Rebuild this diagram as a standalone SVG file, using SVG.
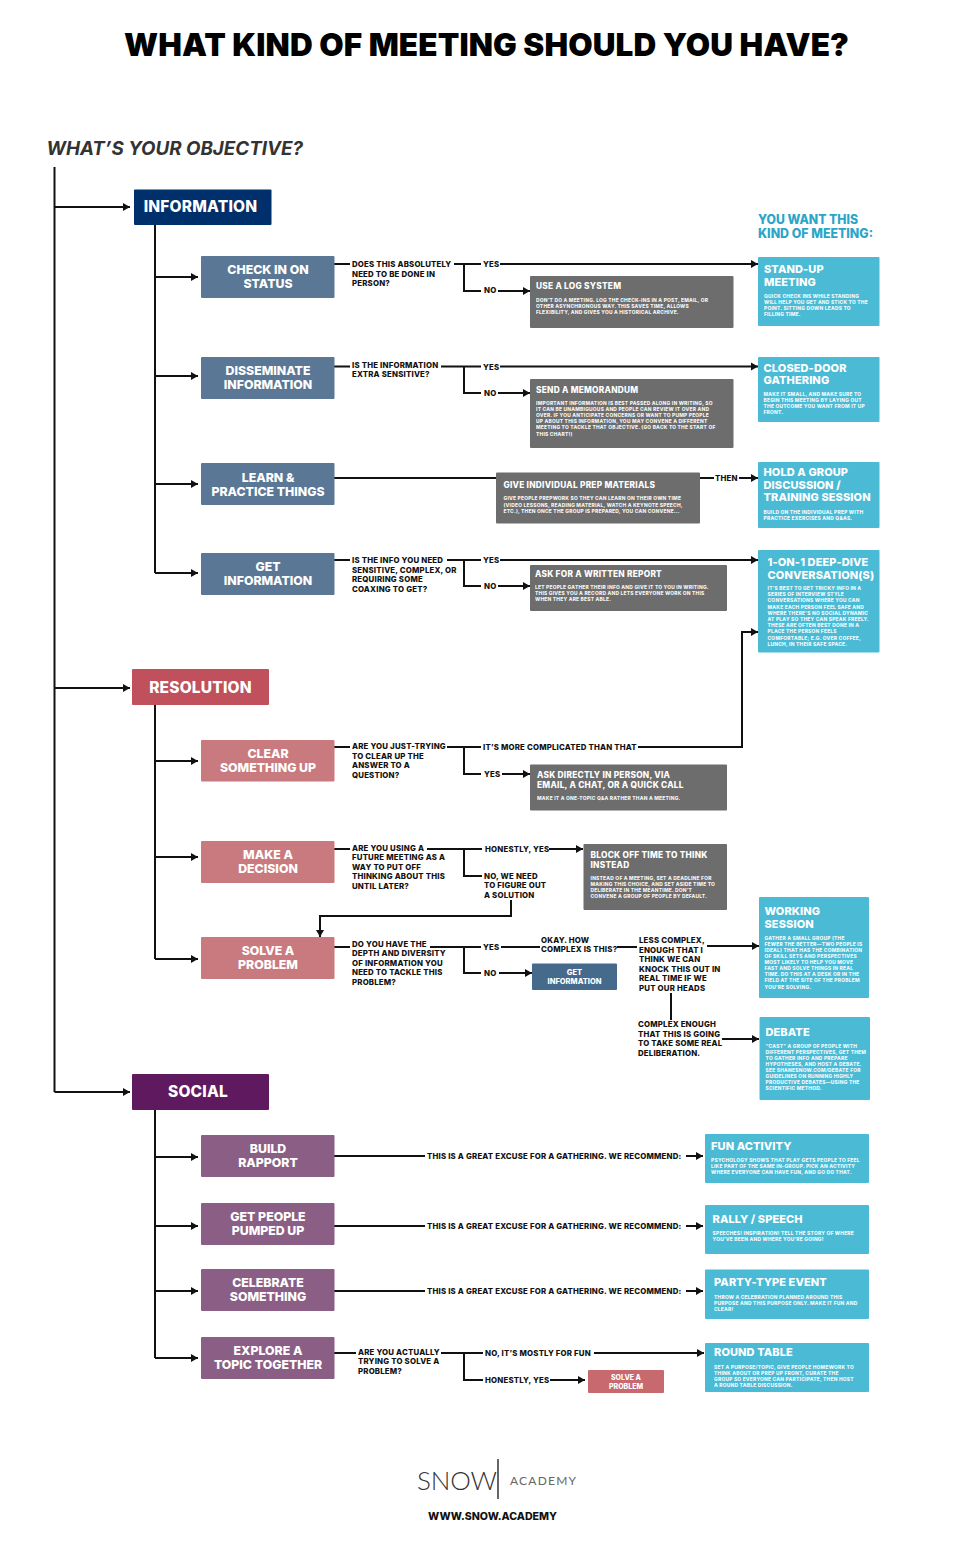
<svg xmlns="http://www.w3.org/2000/svg" width="966" height="1550" viewBox="0 0 966 1550">
<style>
text{font-family:Inter,"Liberation Sans",sans-serif;font-weight:800}
.cat{fill:#fff;font-size:15.5px;text-anchor:middle;letter-spacing:.2px;transform:translateY(.3px)}
.sub{fill:#fff;font-size:12.3px;text-anchor:middle}
.q{fill:#111;font-size:7.8px;letter-spacing:.2px;transform:translateY(.3px)}
.h{fill:#fff;font-size:11px;letter-spacing:.1px;transform:translateY(.3px)}
.g{fill:#fff;font-size:8.3px;letter-spacing:.25px}
.b{fill:#fff;font-size:4.9px;letter-spacing:.23px;opacity:.92}
.gray{fill:#6d6d6d}.cy{fill:#4bbad5}.bl{fill:#5a7796}.pk{fill:#c97a7e}.pu{fill:#8b5f85}
.l{fill:none;stroke:#111;stroke-width:2}
.a{fill:none;stroke:#111;stroke-width:2;marker-end:url(#ah)}
</style>
<defs><marker id="ah" markerUnits="userSpaceOnUse" markerWidth="8" markerHeight="9" refX="7" refY="4.5" orient="auto"><path d="M0 0.5L7 4.5L0 8.5z" fill="#111"/></marker></defs>
<rect width="966" height="1550" fill="#fff"/>
<text x="124" y="56" font-size="31.5" textLength="725" lengthAdjust="spacing" style="font-weight:900" fill="#000">WHAT KIND OF MEETING SHOULD YOU HAVE?</text>
<text x="46.500" y="155" font-size="19" font-style="italic" textLength="256.500" lengthAdjust="spacingAndGlyphs" style="font-weight:700" fill="#333">WHAT’S YOUR OBJECTIVE?</text>
<text x="758" y="224" font-size="12.600" fill="#2aa5c8" textLength="100" lengthAdjust="spacingAndGlyphs">YOU WANT THIS</text>
<text x="758" y="238" font-size="12.600" fill="#2aa5c8" textLength="115" lengthAdjust="spacingAndGlyphs">KIND OF MEETING:</text>

<g id="connectors">
<path class="l" d="M54.500 167V1092M155 225V573M155 705V959M155 1110V1358"/>
<path class="a" d="M54.500 207H130"/><path class="a" d="M54.500 688H130"/><path class="a" d="M54.500 1092H130"/>
<path class="a" d="M155 277H198"/><path class="a" d="M155 376H198"/><path class="a" d="M155 484H198"/><path class="a" d="M155 573H198"/>
<path class="a" d="M155 761H198"/><path class="a" d="M155 857H198"/><path class="a" d="M155 959H198"/>
<path class="a" d="M155 1157H198"/><path class="a" d="M155 1226H198"/><path class="a" d="M155 1291H198"/><path class="a" d="M155 1358H198"/>
<path class="l" d="M334 264H350M454 264H481M464 264V291H481"/><path class="a" d="M500 264H758"/><path class="a" d="M498 291H530"/>
<path class="l" d="M334 366.500H350M441 366.500H481M464 366.500V393H481"/><path class="a" d="M500 366.500H758"/><path class="a" d="M498 393H530"/>
<path class="l" d="M334 478H496M700 478H714"/><path class="a" d="M739 478H758"/>
<path class="l" d="M334 560H350M447 560H481M464 560V586H481"/><path class="a" d="M500 560H758"/><path class="a" d="M498 586H530"/>
<path class="l" d="M334 747H350M447 747H481M464 747V774H481"/><path class="a" d="M638 747H742V632H758"/><path class="a" d="M502 774H530"/>
<path class="l" d="M334 849H350M427 849H482M464 849V876H482"/><path class="a" d="M549 849H583"/><path class="a" d="M511 900V916H320V937"/>
<path class="l" d="M334 947H350M430 947H481M464 947V973H481M501 947H540M617 947H637M671 993V1020"/><path class="a" d="M707 946H759"/><path class="a" d="M722 1039H759"/><path class="a" d="M499 973H532"/>
<path class="l" d="M334 1156H425"/><path class="a" d="M686 1156H703"/>
<path class="l" d="M334 1226H425"/><path class="a" d="M686 1226H703"/>
<path class="l" d="M334 1291H425"/><path class="a" d="M686 1291H703"/>
<path class="l" d="M334 1353H356M441 1353H483M464 1353V1380H483"/><path class="a" d="M594 1353H704"/><path class="a" d="M550 1380H585"/>
</g>

<g id="information"><rect x="134" y="189.500" width="137.500" height="35.500" rx="1" fill="#00306b"/><text class="cat" x="200.500" y="212">INFORMATION</text></g>
<g id="resolution"><rect x="132" y="669" width="137" height="36" rx="1" fill="#c0505c"/><text class="cat" x="200.500" y="693">RESOLUTION</text></g>
<g id="social"><rect x="132" y="1074" width="137" height="36" rx="1" fill="#5f1a5f"/><text class="cat" x="198" y="1097">SOCIAL</text></g>

<g id="check-in"><rect class="bl" x="201" y="256" width="133.500" height="42" rx="1"/><text class="sub" x="268" y="274">CHECK IN ON</text><text class="sub" x="268" y="288">STATUS</text></g>
<g id="disseminate"><rect class="bl" x="201" y="357" width="133.500" height="42" rx="1"/><text class="sub" x="268" y="375">DISSEMINATE</text><text class="sub" x="268" y="389">INFORMATION</text></g>
<g id="learn"><rect class="bl" x="201" y="463" width="133.500" height="42" rx="1"/><text class="sub" x="268" y="482">LEARN &amp;</text><text class="sub" x="268" y="496">PRACTICE THINGS</text></g>
<g id="get-info"><rect class="bl" x="201" y="553" width="133.500" height="42" rx="1"/><text class="sub" x="268" y="571">GET</text><text class="sub" x="268" y="585">INFORMATION</text></g>
<g id="clear"><rect class="pk" x="201" y="740" width="133.500" height="41.500" rx="1"/><text class="sub" x="268" y="758">CLEAR</text><text class="sub" x="268" y="772">SOMETHING UP</text></g>
<g id="decide"><rect class="pk" x="201" y="841" width="133.500" height="42" rx="1"/><text class="sub" x="268" y="859">MAKE A</text><text class="sub" x="268" y="873">DECISION</text></g>
<g id="solve"><rect class="pk" x="201" y="937" width="133.500" height="42" rx="1"/><text class="sub" x="268" y="955">SOLVE A</text><text class="sub" x="268" y="969">PROBLEM</text></g>
<g id="rapport"><rect class="pu" x="201" y="1135" width="133.500" height="42" rx="1"/><text class="sub" x="268" y="1153">BUILD</text><text class="sub" x="268" y="1167">RAPPORT</text></g>
<g id="pumped"><rect class="pu" x="201" y="1203" width="133.500" height="42" rx="1"/><text class="sub" x="268" y="1221">GET PEOPLE</text><text class="sub" x="268" y="1235">PUMPED UP</text></g>
<g id="celebrate"><rect class="pu" x="201" y="1269" width="133.500" height="42" rx="1"/><text class="sub" x="268" y="1287">CELEBRATE</text><text class="sub" x="268" y="1301">SOMETHING</text></g>
<g id="explore"><rect class="pu" x="201" y="1337" width="133.500" height="42" rx="1"/><text class="sub" x="268" y="1355">EXPLORE A</text><text class="sub" x="268" y="1369">TOPIC TOGETHER</text></g>

<g id="labels">
<text class="q" x="352" y="267">DOES THIS ABSOLUTELY</text><text class="q" x="352" y="277">NEED TO BE DONE IN</text><text class="q" x="352" y="286">PERSON?</text>
<text class="q" x="483" y="267">YES</text><text class="q" x="484" y="293">NO</text>
<text class="q" x="352" y="368">IS THE INFORMATION</text><text class="q" x="352" y="377">EXTRA SENSITIVE?</text>
<text class="q" x="483" y="369.500">YES</text><text class="q" x="484" y="396">NO</text>
<text class="q" x="715" y="481">THEN</text>
<text class="q" x="352" y="563">IS THE INFO YOU NEED</text><text class="q" x="352" y="573">SENSITIVE, COMPLEX, OR</text><text class="q" x="352" y="582">REQUIRING SOME</text><text class="q" x="352" y="592">COAXING TO GET?</text>
<text class="q" x="483" y="563">YES</text><text class="q" x="484" y="589">NO</text>
<text class="q" x="352" y="749">ARE YOU JUST-TRYING</text><text class="q" x="352" y="759">TO CLEAR UP THE</text><text class="q" x="352" y="768">ANSWER TO A</text><text class="q" x="352" y="778">QUESTION?</text>
<text class="q" x="483" y="750">IT’S MORE COMPLICATED THAN THAT</text><text class="q" x="484" y="777">YES</text>
<text class="q" x="352" y="851">ARE YOU USING A</text><text class="q" x="352" y="860">FUTURE MEETING AS A</text><text class="q" x="352" y="870">WAY TO PUT OFF</text><text class="q" x="352" y="879">THINKING ABOUT THIS</text><text class="q" x="352" y="889">UNTIL LATER?</text>
<text class="q" x="485" y="852">HONESTLY, YES</text>
<text class="q" x="484" y="879">NO, WE NEED</text><text class="q" x="484" y="888">TO FIGURE OUT</text><text class="q" x="484" y="898">A SOLUTION</text>
<text class="q" x="352" y="947">DO YOU HAVE THE</text><text class="q" x="352" y="956">DEPTH AND DIVERSITY</text><text class="q" x="352" y="966">OF INFORMATION YOU</text><text class="q" x="352" y="975">NEED TO TACKLE THIS</text><text class="q" x="352" y="985">PROBLEM?</text>
<text class="q" x="483" y="949.500">YES</text><text class="q" x="484" y="975.500">NO</text>
<text class="q" x="541" y="942.500">OKAY. HOW</text><text class="q" x="541" y="952">COMPLEX IS THIS?</text>
<text class="q" x="639" y="943">LESS COMPLEX,</text><text class="q" x="639" y="953">ENOUGH THAT I</text><text class="q" x="639" y="962">THINK WE CAN</text><text class="q" x="639" y="972">KNOCK THIS OUT IN</text><text class="q" x="639" y="981">REAL TIME IF WE</text><text class="q" x="639" y="991">PUT OUR HEADS</text>
<text class="q" x="638" y="1027">COMPLEX ENOUGH</text><text class="q" x="638" y="1037">THAT THIS IS GOING</text><text class="q" x="638" y="1046">TO TAKE SOME REAL</text><text class="q" x="638" y="1056">DELIBERATION.</text>
<text class="q" x="427" y="1159">THIS IS A GREAT EXCUSE FOR A GATHERING. WE RECOMMEND:</text>
<text class="q" x="427" y="1229">THIS IS A GREAT EXCUSE FOR A GATHERING. WE RECOMMEND:</text>
<text class="q" x="427" y="1294">THIS IS A GREAT EXCUSE FOR A GATHERING. WE RECOMMEND:</text>
<text class="q" x="358" y="1354.500">ARE YOU ACTUALLY</text><text class="q" x="358" y="1364">TRYING TO SOLVE A</text><text class="q" x="358" y="1373.500">PROBLEM?</text>
<text class="q" x="485" y="1356">NO, IT’S MOSTLY FOR FUN</text><text class="q" x="485" y="1383">HONESTLY, YES</text>
</g>

<g id="log"><rect class="gray" x="530" y="276" width="203.500" height="52" rx="1"/><text class="g" x="536" y="289">USE A LOG SYSTEM</text><text class="b" x="536" y="302">DON’T DO A MEETING. LOG THE CHECK-INS IN A POST, EMAIL, OR</text><text class="b" x="536" y="308">OTHER ASYNCHRONOUS WAY. THIS SAVES TIME, ALLOWS</text><text class="b" x="536" y="314">FLEXIBILITY, AND GIVES YOU A HISTORICAL ARCHIVE.</text></g>
<g id="memo"><rect class="gray" x="530" y="379" width="203.500" height="69" rx="1"/><text class="g" x="536" y="393">SEND A MEMORANDUM</text><text class="b" x="536" y="405">IMPORTANT INFORMATION IS BEST PASSED ALONG IN WRITING, SO</text><text class="b" x="536" y="411">IT CAN BE UNAMBIGUOUS AND PEOPLE CAN REVIEW IT OVER AND</text><text class="b" x="536" y="417">OVER. IF YOU ANTICIPATE CONCERNS OR WANT TO PUMP PEOPLE</text><text class="b" x="536" y="423">UP ABOUT THIS INFORMATION, YOU MAY CONVENE A DIFFERENT</text><text class="b" x="536" y="429">MEETING TO TACKLE THAT OBJECTIVE. (GO BACK TO THE START OF</text><text class="b" x="536" y="436">THIS CHART!)</text></g>
<g id="prep"><rect class="gray" x="496" y="472.500" width="204" height="51" rx="1"/><text class="g" x="503.500" y="488">GIVE INDIVIDUAL PREP MATERIALS</text><text class="b" x="503.500" y="500">GIVE PEOPLE PREPWORK SO THEY CAN LEARN ON THEIR OWN TIME</text><text class="b" x="503.500" y="506.500">(VIDEO LESSONS, READING MATERIAL, WATCH A KEYNOTE SPEECH,</text><text class="b" x="503.500" y="513">ETC.), THEN ONCE THE GROUP IS PREPARED, YOU CAN CONVENE...</text></g>
<g id="report"><rect class="gray" x="530" y="565" width="197" height="46" rx="1"/><text class="g" x="535" y="577">ASK FOR A WRITTEN REPORT</text><text class="b" x="535" y="589">LET PEOPLE GATHER THEIR INFO AND GIVE IT TO YOU IN WRITING.</text><text class="b" x="535" y="595">THIS GIVES YOU A RECORD AND LETS EVERYONE WORK ON THIS</text><text class="b" x="535" y="601">WHEN THEY ARE BEST ABLE.</text></g>
<g id="ask"><rect class="gray" x="530" y="764.500" width="197" height="46" rx="1"/><text class="g" x="537" y="778">ASK DIRECTLY IN PERSON, VIA</text><text class="g" x="537" y="788">EMAIL, A CHAT, OR A QUICK CALL</text><text class="b" x="537" y="800">MAKE IT A ONE-TOPIC Q&amp;A RATHER THAN A MEETING.</text></g>
<g id="block"><rect class="gray" x="583.500" y="844" width="143.500" height="66" rx="1"/><text class="g" x="590.500" y="858">BLOCK OFF TIME TO THINK</text><text class="g" x="590.500" y="868">INSTEAD</text><text class="b" x="590.500" y="880">INSTEAD OF A MEETING, SET A DEADLINE FOR</text><text class="b" x="590.500" y="886">MAKING THIS CHOICE, AND SET ASIDE TIME TO</text><text class="b" x="590.500" y="892">DELIBERATE IN THE MEANTIME. DON’T</text><text class="b" x="590.500" y="898">CONVENE A GROUP OF PEOPLE BY DEFAULT.</text></g>
<g id="get-info-small"><rect x="532" y="963.500" width="85" height="26.500" rx="1" fill="#466a8c"/><text x="574.500" y="974.500" font-size="7.500" fill="#fff" text-anchor="middle">GET</text><text x="574.500" y="984" font-size="7.500" fill="#fff" text-anchor="middle">INFORMATION</text></g>
<g id="solve-small"><rect x="588" y="1370" width="76" height="23" rx="1" fill="#c8686f"/><text x="626" y="1380" font-size="7" fill="#fff" text-anchor="middle">SOLVE A</text><text x="626" y="1389" font-size="7" fill="#fff" text-anchor="middle">PROBLEM</text></g>

<g id="standup"><rect class="cy" x="758" y="257" width="121.500" height="69" rx="1"/><text class="h" x="764" y="273">STAND-UP</text><text class="h" x="764" y="286">MEETING</text><text class="b" x="764" y="298">QUICK CHECK INS WHILE STANDING</text><text class="b" x="764" y="304">WILL HELP YOU GET AND STICK TO THE</text><text class="b" x="764" y="310">POINT. SITTING DOWN LEADS TO</text><text class="b" x="764" y="316">FILLING TIME.</text></g>
<g id="closed"><rect class="cy" x="758" y="357" width="121.500" height="65" rx="1"/><text class="h" x="763.500" y="372">CLOSED-DOOR</text><text class="h" x="763.500" y="384">GATHERING</text><text class="b" x="763.500" y="396">MAKE IT SMALL, AND MAKE SURE TO</text><text class="b" x="763.500" y="402">BEGIN THIS MEETING BY LAYING OUT</text><text class="b" x="763.500" y="408">THE OUTCOME YOU WANT FROM IT UP</text><text class="b" x="763.500" y="414">FRONT.</text></g>
<g id="hold"><rect class="cy" x="758" y="462" width="121.500" height="66" rx="1"/><text class="h" x="763.500" y="476">HOLD A GROUP</text><text class="h" x="763.500" y="489">DISCUSSION /</text><text class="h" x="763.500" y="501">TRAINING SESSION</text><text class="b" x="763.500" y="513.500">BUILD ON THE INDIVIDUAL PREP WITH</text><text class="b" x="763.500" y="519.500">PRACTICE EXERCISES AND Q&amp;AS.</text></g>
<g id="deep"><rect class="cy" x="758" y="550" width="121.500" height="102.500" rx="1"/><text class="h" x="767.500" y="566">1-ON-1 DEEP-DIVE</text><text class="h" x="767.500" y="579">CONVERSATION(S)</text><text class="b" x="767.500" y="590">IT’S BEST TO GET TRICKY INFO IN A</text><text class="b" x="767.500" y="596.200">SERIES OF  INTERVIEW STYLE</text><text class="b" x="767.500" y="602.400">CONVERSATIONS WHERE YOU CAN</text><text class="b" x="767.500" y="608.600">MAKE EACH PERSON FEEL SAFE AND</text><text class="b" x="767.500" y="614.800">WHERE THERE’S NO SOCIAL DYNAMIC</text><text class="b" x="767.500" y="621">AT PLAY SO THEY CAN SPEAK FREELY.</text><text class="b" x="767.500" y="627.200">THESE ARE OFTEN BEST DONE IN A</text><text class="b" x="767.500" y="633.400">PLACE THE PERSON FEELS</text><text class="b" x="767.500" y="639.600">COMFORTABLE; E.G. OVER COFFEE,</text><text class="b" x="767.500" y="645.800">LUNCH, IN THEIR SAFE SPACE.</text></g>
<g id="working"><rect class="cy" x="759" y="897" width="110" height="101" rx="1"/><text class="h" x="764.500" y="915">WORKING</text><text class="h" x="764.500" y="928">SESSION</text><text class="b" x="764.500" y="939.500">GATHER A SMALL GROUP (THE</text><text class="b" x="764.500" y="945.600">FEWER THE BETTER—TWO PEOPLE IS</text><text class="b" x="764.500" y="951.700">IDEAL) THAT HAS THE COMBINATION</text><text class="b" x="764.500" y="957.800">OF SKILL SETS AND PERSPECTIVES</text><text class="b" x="764.500" y="964">MOST LIKELY TO HELP YOU MOVE</text><text class="b" x="764.500" y="970.100">FAST AND SOLVE THINGS IN REAL</text><text class="b" x="764.500" y="976.200">TIME. DO THIS AT A DESK OR IN THE</text><text class="b" x="764.500" y="982.300">FIELD  AT THE SITE OF THE PROBLEM</text><text class="b" x="764.500" y="988.500">YOU’RE SOLVING.</text></g>
<g id="debate"><rect class="cy" x="759.500" y="1017" width="110.500" height="83" rx="1"/><text class="h" x="765.500" y="1035.500">DEBATE</text><text class="b" x="765.500" y="1048">“CAST” A GROUP OF PEOPLE WITH</text><text class="b" x="765.500" y="1054">DIFFERENT PERSPECTIVES, GET THEM</text><text class="b" x="765.500" y="1060">TO GATHER INFO AND PREPARE</text><text class="b" x="765.500" y="1066">HYPOTHESES, AND HOST A DEBATE.</text><text class="b" x="765.500" y="1072">SEE SHANESNOW.COM/DEBATE FOR</text><text class="b" x="765.500" y="1078">GUIDELINES ON RUNNING HIGHLY</text><text class="b" x="765.500" y="1084">PRODUCTIVE DEBATES—USING THE</text><text class="b" x="765.500" y="1090">SCIENTIFIC METHOD.</text></g>
<g id="fun"><rect class="cy" x="705" y="1134" width="164" height="49" rx="1"/><text class="h" x="711" y="1150">FUN ACTIVITY</text><text class="b" x="711" y="1162">PSYCHOLOGY SHOWS THAT PLAY GETS PEOPLE TO FEEL</text><text class="b" x="711" y="1168">LIKE PART OF THE SAME IN-GROUP. PICK AN ACTIVITY</text><text class="b" x="711" y="1174">WHERE EVERYONE CAN HAVE FUN, AND GO DO THAT.</text></g>
<g id="rally"><rect class="cy" x="705" y="1205" width="164" height="49" rx="1"/><text class="h" x="712.500" y="1223">RALLY / SPEECH</text><text class="b" x="712.500" y="1235">SPEECHES! INSPIRATION! TELL THE STORY OF WHERE</text><text class="b" x="712.500" y="1241">YOU’VE BEEN AND WHERE YOU’RE GOING!</text></g>
<g id="party"><rect class="cy" x="705" y="1269.500" width="164" height="49.500" rx="1"/><text class="h" x="714" y="1286">PARTY-TYPE EVENT</text><text class="b" x="714" y="1299">THROW A CELEBRATION PLANNED AROUND THIS</text><text class="b" x="714" y="1305">PURPOSE AND THIS PURPOSE ONLY. MAKE IT FUN AND</text><text class="b" x="714" y="1311">CLEAR!</text></g>
<g id="round"><rect class="cy" x="705" y="1343" width="164" height="49" rx="1"/><text class="h" x="714" y="1356">ROUND TABLE</text><text class="b" x="714" y="1369">SET A PURPOSE/TOPIC, GIVE PEOPLE HOMEWORK TO</text><text class="b" x="714" y="1375">THINK ABOUT OR PREP UP FRONT, CURATE THE</text><text class="b" x="714" y="1381">GROUP SO EVERYONE CAN PARTICIPATE, THEN HOST</text><text class="b" x="714" y="1387">A ROUND TABLE DISCUSSION.</text></g>

<g id="logo">
<text x="417" y="1490" font-size="26" textLength="80" lengthAdjust="spacing" style="font-family:Lato,'Liberation Sans',sans-serif;font-weight:300" fill="#333">SNOW</text>
<path d="M498 1459V1499" stroke="#333" stroke-width="1.500"/>
<text x="510" y="1485" font-size="12" textLength="66" style="font-family:Lato,'Liberation Sans',sans-serif;font-weight:400" fill="#666">ACADEMY</text>
<text x="428" y="1520" font-size="10.500" textLength="129" lengthAdjust="spacingAndGlyphs" style="font-weight:800" fill="#111">WWW.SNOW.ACADEMY</text>
</g>
</svg>
